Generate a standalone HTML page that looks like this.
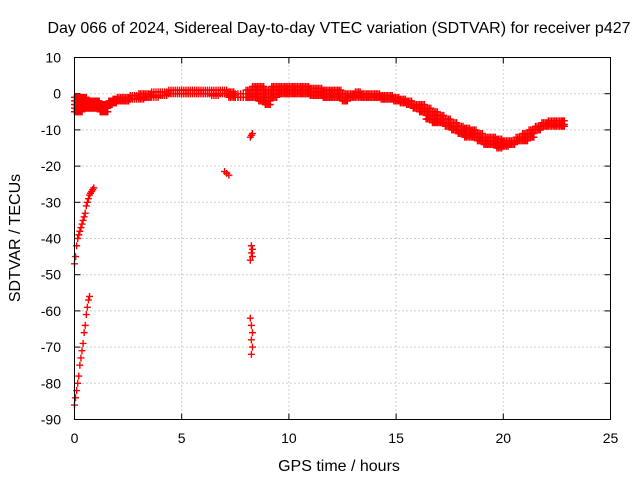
<!DOCTYPE html>
<html><head><meta charset="utf-8"><style>
html,body{margin:0;padding:0;background:#fff;}
svg{display:block;font-family:"Liberation Sans",Arial,sans-serif;font-size:14px;}
</style></head><body>
<svg id="chart" width="640" height="480" viewBox="0 0 640 480" xmlns="http://www.w3.org/2000/svg">
<rect width="640" height="480" fill="#fff"/>
<text x="339" y="33" text-anchor="middle" font-size="16">Day 066 of 2024, Sidereal Day-to-day VTEC variation (SDTVAR) for receiver p427</text>
<text x="0" y="0" text-anchor="middle" font-size="16" transform="translate(20,238) rotate(-90)">SDTVAR / TECUs</text>
<text x="339" y="471" text-anchor="middle" font-size="16">GPS time / hours</text>
<g id="grid"></g>
<g id="axes"></g>
<g id="marks"></g>
<rect x="74.5" y="57.5" width="536" height="362" fill="none" stroke="#000" stroke-width="1"/>
</svg>
<script>
const xTicks = [0,5,10,15,20,25];
const yTicks = [10,0,-10,-20,-30,-40,-50,-60,-70,-80,-90];
// main band (upper and lower edges)
const bandHours = [0,0.2,0.4,0.6,0.8,1.0,1.2,1.4,1.6,1.8,2.0,2.3,2.6,3.0,3.3,3.6,4.0,4.4,4.8,5.2,5.6,6.0,6.4,6.8,7.2,7.5,8.0,8.3,8.6,8.9,9.2,9.5,9.8,10.1,10.4,10.7,11.0,11.3,11.6,11.9,12.2,12.5,12.8,13.1,13.4,13.7,14.0,14.3,14.6,14.9,15.2,15.5,15.8,16.1,16.4,16.7,17.0,17.3,17.6,17.9,18.2,18.5,18.8,19.1,19.4,19.7,20.0,20.3,20.6,20.9,21.2,21.5,21.8,22.1,22.4,22.7];
const bandUpper = [-1,-1,-1,-2,-2,-2,-3,-3,-2,-1.5,-1,-1,-0.5,0,0,0.5,0.5,1,1,1,1,1,1,1,0.5,0,1,2,2,1,2,2,2,2,2,2,1.5,1.5,1,1,1,0,0,0.5,0,0,0,-0.5,-0.5,-1,-1.5,-2,-3,-3,-4,-5,-6,-7,-8,-9,-9.5,-10,-11,-12,-12,-12.5,-13,-13,-12,-11,-10,-9,-8,-7.5,-7.5,-7.5];
const bandLower = [-5,-5,-4,-4,-4,-4,-5,-5,-3,-2.5,-2,-2,-1.5,-1.5,-1,-1,-0.5,0,0,0,0,0,-0.5,0,-1,-1,-1,-1,-2,-3,-1,0,0,0,0,0,-0.5,-0.5,-1,-1,-1,-2,-1,-1,-1,-1,-1,-1.5,-1.5,-2,-2.5,-3,-4,-5,-7,-8,-8,-9,-10,-11,-12,-12,-13,-14,-14,-15,-14.5,-14,-13,-13,-12,-10,-9,-9,-9,-9];
// steep early series
const s1Hours = [0,0.05,0.1,0.15,0.2,0.25,0.3,0.35,0.4,0.45,0.5,0.55,0.6,0.65,0.7,0.75,0.8,0.85,0.9];
const s1Vals = [-47,-45,-42,-40,-39,-38,-37,-36,-35,-34,-33,-31,-30,-29,-28,-27.5,-27,-26.5,-26];
const s2Hours = [0,0.05,0.1,0.15,0.2,0.25,0.3,0.35,0.4,0.45,0.5,0.55,0.6,0.65,0.7];
const s2Vals = [-86,-84,-82,-80,-78,-75,-73,-71,-69,-66,-64,-61,-59,-57,-56];
// isolated clusters
const cHours = [7.0,7.1,7.2,8.2,8.25,8.3,8.2,8.25,8.3,8.25,8.3,8.2,8.25,8.3,8.25,8.3,8.25];
const cVals = [-21.5,-22,-22.5,-12,-11.5,-11,-46,-44,-43,-42,-45,-62,-64,-66,-68,-70,-72];

const L=74.5,R=610.5,T=57.5,B=419.5;
const xs = v => L + (v-0)/(25-0)*(R-L);
const ys = v => T + (10-v)/(10-(-90))*(B-T);
const NS="http://www.w3.org/2000/svg";
const grid=document.getElementById('grid'), axes=document.getElementById('axes'), marks=document.getElementById('marks');
function mk(tag,attrs,parent){const e=document.createElementNS(NS,tag);for(const k in attrs)e.setAttribute(k,attrs[k]);parent.appendChild(e);return e;}
xTicks.forEach(t=>{
  const x=xs(t);
  if(t>0&&t<25){const g=mk('line',{x1:x,x2:x,y1:T,y2:B,stroke:'#a0a0a0','stroke-dasharray':'1,3'},grid);
  
  }
  mk('line',{x1:x,x2:x,y1:B,y2:B-6,stroke:'#000'},axes);
  mk('line',{x1:x,x2:x,y1:T,y2:T+6,stroke:'#000'},axes);
  const tx=mk('text',{x:x,y:443,'text-anchor':'middle'},axes);tx.textContent=t;
  
  
});
yTicks.forEach(t=>{
  const y=ys(t);
  if(t<10&&t>-90){const g=mk('line',{x1:L,x2:R,y1:y,y2:y,stroke:'#a0a0a0','stroke-dasharray':'1,3'},grid);
  
  }
  mk('line',{x1:L,x2:L+6,y1:y,y2:y,stroke:'#000'},axes);
  mk('line',{x1:R,x2:R-6,y1:y,y2:y,stroke:'#000'},axes);
  const tx=mk('text',{x:61,y:y+5,'text-anchor':'end'},axes);tx.textContent=t;
  
  
});
function plus(h,v){
  const x=xs(h),y=ys(v);
  const p=mk('path',{d:`M${x-3.5},${y}H${x+3.5}M${x},${y-3.5}V${y+3.5}`,stroke:'#f00','stroke-width':1.4,fill:'none'},marks);
  
  
}
bandHours.forEach((h,i)=>{
  const hn = i<bandHours.length-1 ? bandHours[i+1] : h+0.2;
  const up=bandUpper[i], lo=bandLower[i];
  for(let k=0;k<4;k++){
    const hh=h+(hn-h)*k/4;
    for(let v=up; v>=lo-0.01; v-=1) plus(hh,v);
    plus(hh,lo);
  }
});
s1Hours.forEach((h,i)=>plus(h,s1Vals[i]));
s2Hours.forEach((h,i)=>plus(h,s2Vals[i]));
cHours.forEach((h,i)=>plus(h,cVals[i]));
</script>
</body></html>
